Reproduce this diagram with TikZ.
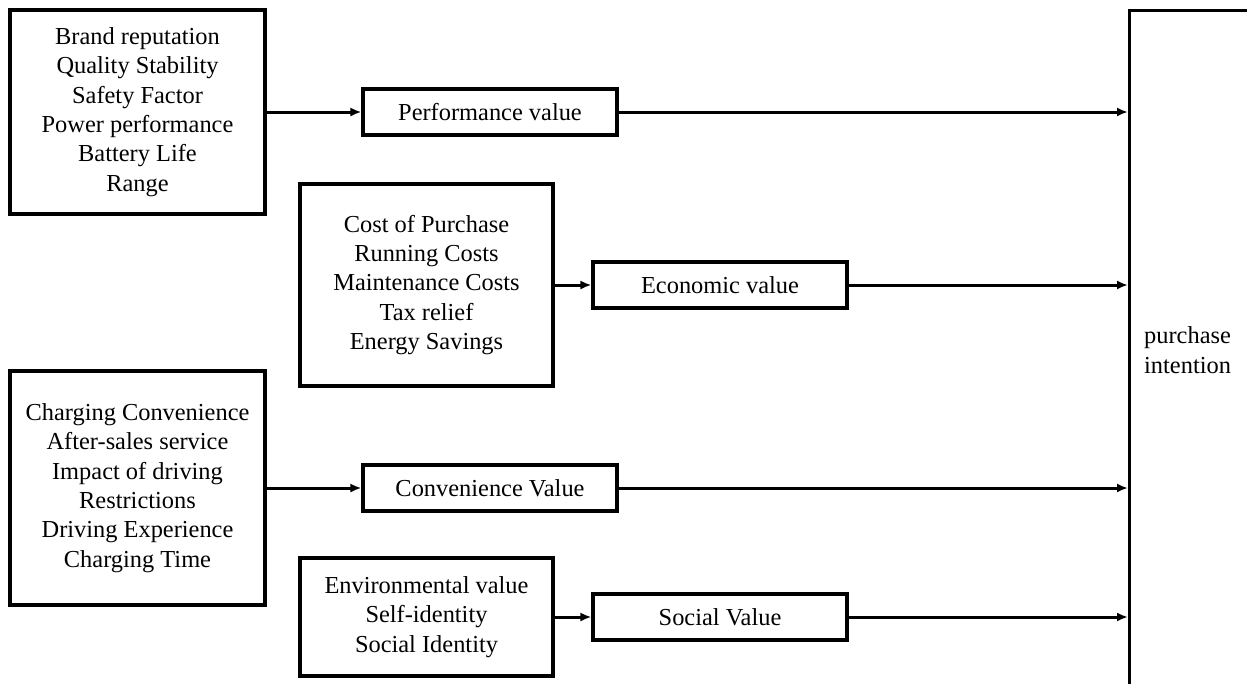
\documentclass[tikz,border=0pt]{standalone}
\usepackage{fontspec}
\setmainfont{Liberation Serif}
\usetikzlibrary{arrows.meta}
\begin{document}
\begin{tikzpicture}[x=1pt,y=-1pt,
  box/.style={draw, line width=3.1pt, align=center, inner sep=0pt,
    font=\fontsize{24.4}{29.3}\selectfont},
  txt/.style={align=left, inner sep=0pt, font=\fontsize{24.4}{29.3}\selectfont},
  arr/.style={line width=3pt, -{Latex[length=11pt,width=9pt]}}]
\useasboundingbox (0,0) rectangle (1247,683);
\clip (0,0) rectangle (1247,683);
\fill[white] (0,0) rectangle (1247,683);
% left column
\node[box, minimum width=255pt, minimum height=204pt] (b1) at (137.5,112)
  {Brand reputation\\Quality Stability\\Safety Factor\\Power performance\\Battery Life\\Range};
\node[box, minimum width=253pt, minimum height=202pt] (b2) at (426.5,285)
  {Cost of Purchase\\Running Costs\\Maintenance Costs\\Tax relief\\Energy Savings};
\node[box, minimum width=255pt, minimum height=234pt] (b3) at (137.5,488)
  {Charging Convenience\\After-sales service\\Impact of driving\\Restrictions\\Driving Experience\\Charging Time};
\node[box, minimum width=253pt, minimum height=118pt] (b4) at (426.5,617)
  {Environmental value\\Self-identity\\Social Identity};
% value boxes
\node[box, minimum width=254pt, minimum height=46pt] (perf) at (490,112) {Performance value};
\node[box, minimum width=254pt, minimum height=46pt] (econ) at (720,285) {Economic value};
\node[box, minimum width=254pt, minimum height=46pt] (conv) at (490,488) {Convenience Value};
\node[box, minimum width=254pt, minimum height=46pt] (soc) at (720,617) {Social Value};
% purchase intention
\node[box, anchor=north west, minimum width=200pt, minimum height=760pt] (pi) at (1128,9) {};
\node[txt, anchor=west] (pit) at (1144,350) {purchase\\intention};
% connectors
\draw[arr] (b1.east) -- (perf.west);
\draw[arr] (b2.east) -- (econ.west);
\draw[arr] (b3.east) -- (conv.west);
\draw[arr] (b4.east) -- (soc.west);
\draw[arr] (perf.east) -- (perf.east -| pi.west);
\draw[arr] (econ.east) -- (econ.east -| pi.west);
\draw[arr] (conv.east) -- (conv.east -| pi.west);
\draw[arr] (soc.east) -- (soc.east -| pi.west);
\end{tikzpicture}
\end{document}
